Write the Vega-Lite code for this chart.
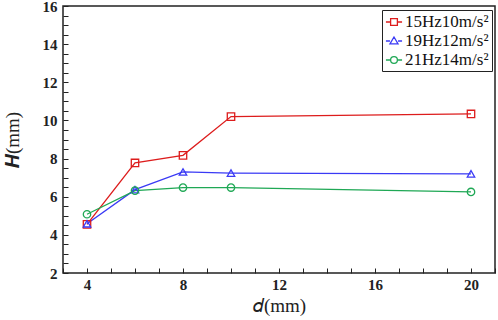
{
  "$schema": "https://vega.github.io/schema/vega-lite/v6.json",
  "width": 432,
  "height": 267,
  "autosize": "none",
  "padding": {"left": 63, "top": 6, "right": 3, "bottom": 47},
  "background": "white",
  "config": {
    "view": {"stroke": "#222", "strokeWidth": 1.5},
    "font": "Liberation Serif",
    "axis": {
      "domain": false,
      "grid": false,
      "tickSize": -5,
      "tickColor": "#222",
      "tickWidth": 1,
      "labelFont": "Liberation Serif",
      "labelFontWeight": "bold",
      "labelFontSize": 15,
      "labelColor": "#222",
      "titleFont": "Liberation Serif",
      "titleFontSize": 19,
      "titleFontWeight": "normal",
      "titleColor": "#222"
    }
  },
  "data": {
    "values": [
      {"series": "15Hz10m/s²", "d": 4, "H": 4.55},
      {"series": "15Hz10m/s²", "d": 6, "H": 7.77},
      {"series": "15Hz10m/s²", "d": 8, "H": 8.17},
      {"series": "15Hz10m/s²", "d": 10, "H": 10.2},
      {"series": "15Hz10m/s²", "d": 20, "H": 10.34},
      {"series": "19Hz12m/s²", "d": 4, "H": 4.58},
      {"series": "19Hz12m/s²", "d": 6, "H": 6.37},
      {"series": "19Hz12m/s²", "d": 8, "H": 7.3},
      {"series": "19Hz12m/s²", "d": 10, "H": 7.24},
      {"series": "19Hz12m/s²", "d": 20, "H": 7.2},
      {"series": "21Hz14m/s²", "d": 4, "H": 5.08},
      {"series": "21Hz14m/s²", "d": 6, "H": 6.32},
      {"series": "21Hz14m/s²", "d": 8, "H": 6.48},
      {"series": "21Hz14m/s²", "d": 10, "H": 6.48},
      {"series": "21Hz14m/s²", "d": 20, "H": 6.25}
    ]
  },
  "encoding": {
    "x": {
      "field": "d", "type": "quantitative",
      "scale": {"domain": [3, 21], "nice": false, "zero": false},
      "axis": {
        "title": "𝑑(mm)",
        "values": [3,4,5,6,7,8,9,10,11,12,13,14,15,16,17,18,19,20,21],
        "labelExpr": "datum.value % 4 === 0 ? format(datum.value, 'd') : ''",
        "labelPadding": 9,
        "titlePadding": 4
      }
    },
    "y": {
      "field": "H", "type": "quantitative",
      "scale": {"domain": [2, 16], "nice": false, "zero": false},
      "axis": {
        "title": "𝑯(mm)",
        "values": [2,2.5,3,3.5,4,4.5,5,5.5,6,6.5,7,7.5,8,8.5,9,9.5,10,10.5,11,11.5,12,12.5,13,13.5,14,14.5,15,15.5,16],
        "labelExpr": "datum.value % 2 === 0 ? format(datum.value, 'd') : ''",
        "labelPadding": 11,
        "titlePadding": 20
      }
    }
  },
  "layer": [
    {
      "mark": {"type": "line", "strokeWidth": 1.3},
      "encoding": {
        "color": {
          "field": "series", "type": "nominal",
          "scale": {"range": ["#dd1c1c", "#3a3af5", "#1fa855"]},
          "legend": {
            "title": null,
            "orient": "none",
            "legendX": 319,
            "legendY": 4,
            "strokeColor": "#222",
            "fillColor": "white",
            "padding": 3,
            "cornerRadius": 0,
            "labelFont": "Liberation Serif",
            "labelFontSize": 17,
            "labelColor": "#111",
            "labelOffset": 2,
            "rowPadding": 2,
            "symbolSize": 260,
            "symbolStrokeWidth": 1.3,
            "encode": {
              "symbols": {
                "enter": {
                  "shape": {"signal": "datum.value === '15Hz10m/s²' ? 'M-1,0H-0.42M0.42,0H1M-0.42,-0.42H0.42V0.42H-0.42Z' : datum.value === '19Hz12m/s²' ? 'M-1,0H-0.5M0.5,0H1M0,-0.5L0.5,0.35H-0.5Z' : 'M-1,0H-0.42M0.42,0H1M0.42,0A0.42,0.42 0 1,1 -0.42,0A0.42,0.42 0 1,1 0.42,0Z'"},
                  "fill": {"value": "transparent"}
                },
                "update": {
                  "shape": {"signal": "datum.value === '15Hz10m/s²' ? 'M-1,0H-0.42M0.42,0H1M-0.42,-0.42H0.42V0.42H-0.42Z' : datum.value === '19Hz12m/s²' ? 'M-1,0H-0.5M0.5,0H1M0,-0.5L0.5,0.35H-0.5Z' : 'M-1,0H-0.42M0.42,0H1M0.42,0A0.42,0.42 0 1,1 -0.42,0A0.42,0.42 0 1,1 0.42,0Z'"},
                  "fill": {"value": "transparent"}
                }
              }
            }
          }
        }
      }
    },
    {
      "mark": {"type": "point", "filled": false, "strokeWidth": 1.3, "size": 55, "opacity": 1},
      "encoding": {
        "color": {"field": "series", "type": "nominal", "legend": null},
        "shape": {
          "field": "series", "type": "nominal",
          "scale": {"range": ["square", "triangle-up", "circle"]},
          "legend": null
        }
      }
    }
  ]
}
